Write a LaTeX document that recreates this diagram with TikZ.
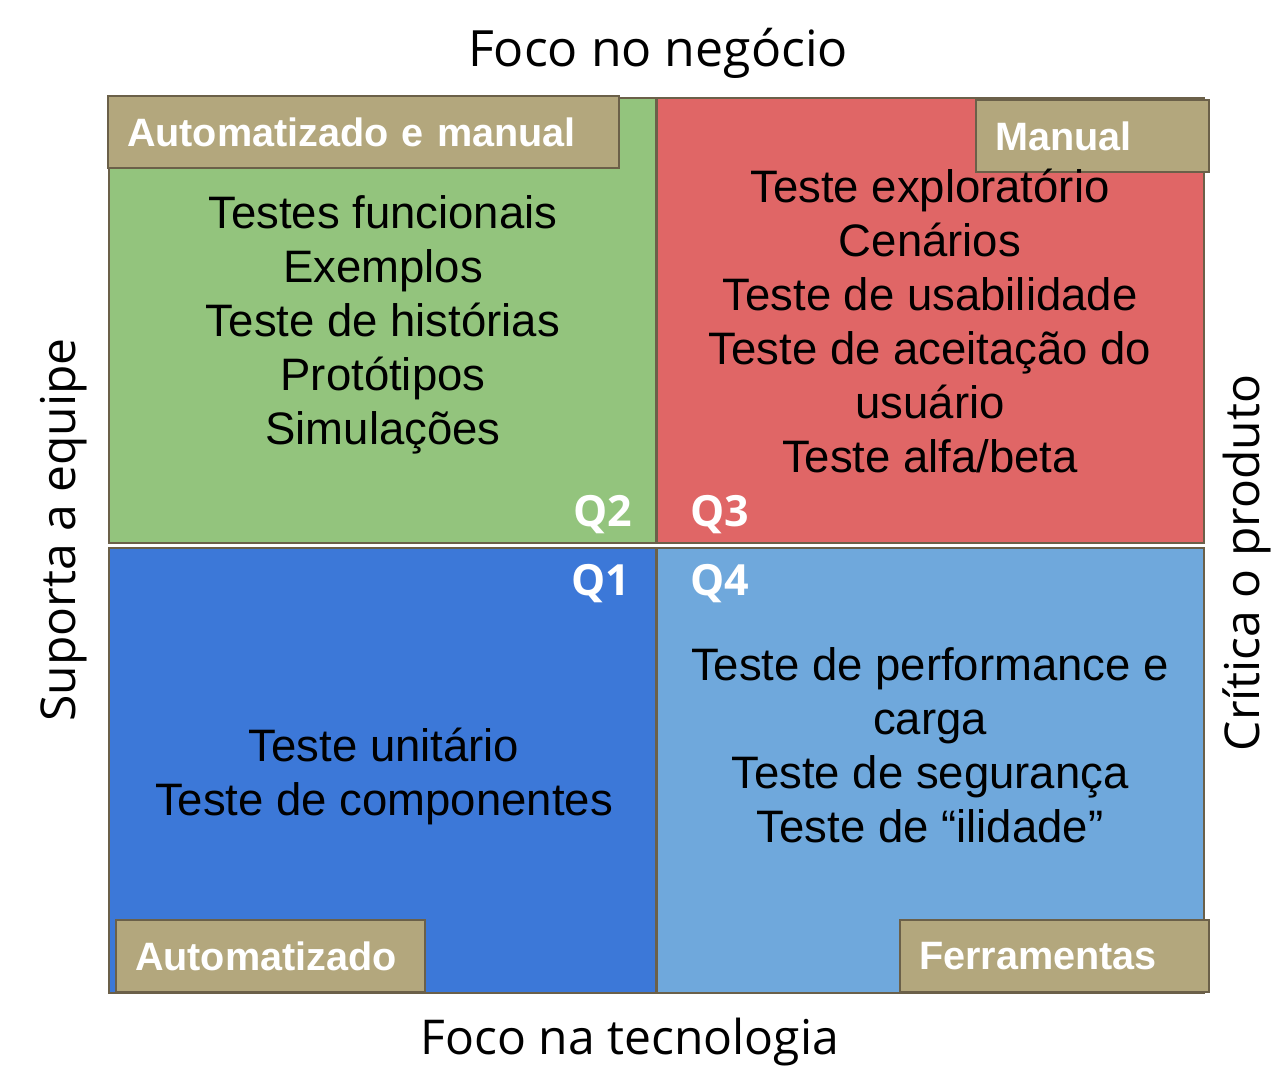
\documentclass[tikz,border=0pt]{standalone}
\usepackage{fontspec}
\setmainfont{Liberation Sans}
\newfontfamily\osans{Open Sans}
\definecolor{qgreen}{HTML}{93C47D}
\definecolor{qred}{HTML}{E06666}
\definecolor{qblue}{HTML}{3C78D8}
\definecolor{qlblue}{HTML}{6FA8DC}
\definecolor{tagfill}{HTML}{B3A77D}
\definecolor{edge}{HTML}{6B6049}
\tikzset{
  quad/.style={draw=edge, line width=2pt, inner sep=0pt, outer sep=0pt, minimum width=547pt, minimum height=445pt},
  tagbox/.style={draw=edge, line width=2pt, fill=tagfill, anchor=north west, inner xsep=19pt, inner ysep=0pt, minimum height=72pt, text=white, align=left, font=\fontsize{39.6}{48}\selectfont\bfseries},
  body/.style={align=center, font=\fontsize{45.5}{54}\selectfont, text=black},
  qlab/.style={text=white, font=\osans\fontsize{43}{50}\selectfont\bfseries},
  axis/.style={font=\osans\fontsize{48}{58}\selectfont, text=black}
}
\begin{document}
\begin{tikzpicture}[x=1pt,y=-1pt]
\useasboundingbox (0,0) rectangle (1271,1067);
\fill[white] (0,0) rectangle (1271,1067);
% quadrants
\node[quad, fill=qgreen] (q2) at (382.5,320.5) {};
\node[quad, fill=qred] (q3) at (930.5,320.5) {};
\node[quad, fill=qblue] (q1) at (382.5,770.5) {};
\node[quad, fill=qlblue] (q4) at (930.5,770.5) {};
% tags
\node[tagbox, text width=473pt] (t2) at (107,95) {Automatizado e manual};
\node[tagbox, text width=195pt] (t3) at (975,99) {Manual};
\node[tagbox, text width=271pt] (t1) at (115,919) {Automatizado};
\node[tagbox, text width=271pt] (t4) at (899,919) {Ferramentas};
% bodies
\node[body] (b2) at (383,325) {Testes funcionais\\Exemplos\\Teste de histórias\\Protótipos\\Simulações};
\node[body] (b3) at (930,321) {Teste exploratório\\Cenários\\Teste de usabilidade\\Teste de aceitação do\\usuário\\Teste alfa/beta};
\node[body] (b1) at (384,776) {Teste unitário\\Teste de componentes};
\node[body] (b4) at (930,745) {Teste de performance e\\carga\\Teste de segurança\\Teste de “ilidade”};
% Q labels
\node[qlab] (l2) at (603,515) {Q2};
\node[qlab] (l3) at (720,515) {Q3};
\node[qlab] (l1) at (601,584) {Q1};
\node[qlab] (l4) at (720,584) {Q4};
% axes
\node[axis, font=\osans\fontsize{50}{60}\selectfont] (top) at (658,53) {Foco no negócio};
\node[axis] (bot) at (630,1042) {Foco na tecnologia};
\node[axis, rotate=90] (left) at (64,530) {Suporta a equipe};
\node[axis, rotate=90] (right) at (1247,563) {Crítica o produto};
\end{tikzpicture}
\end{document}
